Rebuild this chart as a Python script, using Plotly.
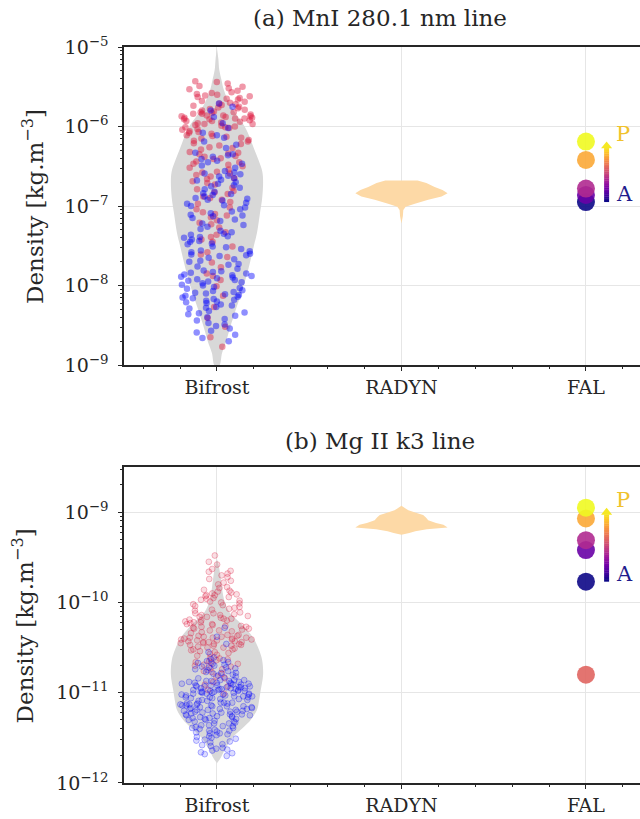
import numpy as np
import plotly.graph_objects as go
from plotly.colors import sample_colorscale

# ------------------------------------------------------------------
# Data: all densities stored as log10(rho / kg m^-3)
# ------------------------------------------------------------------
categories = ["Bifrost", "RADYN", "FAL"]
fal_models = ["A", "C", "E", "F", "H", "P"]

# (a) Mn I 280.1 nm line
mn_bifrost_red = [
    -5.43, -5.46, -5.44, -5.50, -5.52, -5.49, -5.55, -5.53,
    -5.58, -5.61, -5.57, -5.64, -5.66, -5.60, -5.69, -5.71, -5.63, -5.74, -5.77, -5.68, -5.72,
    -5.79, -5.62, -5.75, -5.70, -5.78, -5.65, -5.73, -5.59, -5.76,
    -5.81, -5.84, -5.80, -5.87, -5.83, -5.89, -5.86, -5.92, -5.85, -5.90, -5.94, -5.88, -5.82,
    -5.96, -5.91, -5.99, -5.93, -6.01, -5.97, -5.86, -6.03, -5.95, -5.89, -6.00, -5.84, -5.98,
    -6.02, -5.91, -5.87, -6.04, -5.93, -5.82, -5.97, -5.90, -6.01,
    -6.06, -6.09, -6.12, -6.08, -6.15, -6.19, -6.11, -6.22, -6.17, -6.26, -6.14, -6.21, -6.29,
    -6.24, -6.07, -6.18, -6.27, -6.13,
    -6.32, -6.35, -6.38, -6.41, -6.34, -6.45, -6.48, -6.40, -6.52, -6.37, -6.44, -6.50, -6.33,
    -6.47, -6.54,
    -6.57, -6.61, -6.65, -6.59, -6.69, -6.73, -6.63, -6.77, -6.71, -6.66, -6.79, -6.58,
    -6.83, -6.88, -6.92, -6.85, -6.97, -7.02, -6.90, -6.95, -7.04, -6.81,
    -7.08, -7.12, -7.18, -7.14, -7.23, -7.27, -7.10, -7.21,
    -7.33, -7.39, -7.45, -7.36, -7.51, -7.42,
    -7.58, -7.64, -7.71, -7.61, -7.77,
    -7.85, -7.93, -8.01, -7.88,
    -8.13, -8.27, -8.41, -8.52, -8.65, -8.77,
]
mn_bifrost_blue = [
    -5.71, -5.75, -5.80, -5.88, -5.96, -6.02,
    -6.08, -6.14, -6.19, -6.23, -6.27, -6.11,
    -6.33, -6.36, -6.41, -6.38, -6.45, -6.49, -6.52, -6.43, -6.35, -6.47,
    -6.56, -6.60, -6.63, -6.58, -6.67, -6.70, -6.65, -6.74, -6.72, -6.77, -6.62, -6.79, -6.68,
    -6.75, -6.59,
    -6.82, -6.86, -6.84, -6.90, -6.93, -6.88, -6.96, -6.99, -6.92, -7.02, -6.85, -7.04, -6.97,
    -6.91, -7.00,
    -7.07, -7.11, -7.09, -7.15, -7.19, -7.13, -7.22, -7.26, -7.17, -7.29, -7.24, -7.12,
    -7.31, -7.35, -7.33, -7.38, -7.42, -7.36, -7.45, -7.40, -7.48, -7.51, -7.44, -7.54, -7.39,
    -7.47, -7.52,
    -7.56, -7.60, -7.58, -7.63, -7.67, -7.61, -7.70, -7.65, -7.73, -7.76, -7.69, -7.79, -7.62,
    -7.74, -7.57,
    -7.81, -7.84, -7.82, -7.87, -7.90, -7.86, -7.93, -7.89, -7.96, -7.99, -7.92, -8.02, -7.85,
    -7.97, -8.04, -7.91, -7.83, -8.00, -7.95, -7.88, -8.03, -7.94,
    -8.06, -8.09, -8.07, -8.12, -8.15, -8.10, -8.18, -8.14, -8.21, -8.24, -8.17, -8.27, -8.11,
    -8.20, -8.29, -8.16, -8.08, -8.25, -8.13, -8.22, -8.28, -8.19,
    -8.32, -8.36, -8.34, -8.40, -8.44, -8.38, -8.47, -8.51, -8.42, -8.54, -8.35, -8.49,
    -8.57, -8.62, -8.66, -8.59, -8.70,
]
# Bifrost kernel-density profile (relative width) along log10(rho)
mn_bifrost_kde_logrho = [-5.02, -5.15, -5.29, -5.42, -5.54, -5.70, -5.85, -6.00, -6.15, -6.29,
                         -6.42, -6.56, -6.70, -6.90, -7.10, -7.33, -7.50, -7.70, -7.90, -8.09,
                         -8.30, -8.52, -8.70, -8.85, -9.00]
mn_bifrost_kde_dens = [0.00, 0.03, 0.05, 0.10, 0.15, 0.26, 0.42, 0.60, 0.72, 0.81,
                       0.90, 0.98, 1.00, 0.98, 0.93, 0.87, 0.80, 0.72, 0.63, 0.53,
                       0.41, 0.29, 0.20, 0.11, 0.06]
mn_radyn_kde_logrho = [-6.68, -6.71, -6.76, -6.80, -6.84, -6.88, -6.92, -6.97, -7.01, -7.05,
                       -7.13, -7.22]
mn_radyn_kde_dens = [0.35, 0.54, 0.72, 0.89, 1.00, 0.87, 0.58, 0.29, 0.09, 0.04, 0.03, 0.00]
mn_fal = [-6.95, -6.86, -6.78, None, -6.42, -6.19]

# (b) Mg II k3 line
mg_bifrost_red = [
    -9.48, -9.55, -9.58,
    -9.63, -9.68, -9.72, -9.66, -9.76, -9.80, -9.70, -9.83, -9.74, -9.65, -9.78, -9.84,
    -9.86, -9.89, -9.92, -9.88, -9.95, -9.98, -9.91, -10.01, -9.94, -10.04, -9.97, -10.07,
    -9.87, -10.00, -9.93, -10.09, -9.90, -10.03, -9.96, -10.06, -9.99, -10.08, -10.02, -9.92,
    -10.05,
    -10.11, -10.13, -10.15, -10.12, -10.17, -10.19, -10.14, -10.21, -10.18, -10.23, -10.16,
    -10.25, -10.20, -10.27, -10.22, -10.29, -10.24, -10.31, -10.26, -10.33, -10.28, -10.12,
    -10.30, -10.18, -10.34, -10.22, -10.16, -10.27, -10.32, -10.24, -10.14, -10.29, -10.20,
    -10.26, -10.31,
    -10.36, -10.38, -10.37, -10.40, -10.42, -10.39, -10.44, -10.41, -10.46, -10.43, -10.48,
    -10.45, -10.50, -10.47, -10.52, -10.49, -10.54, -10.51, -10.56, -10.53, -10.58, -10.37,
    -10.41, -10.45, -10.39, -10.43, -10.47, -10.36, -10.50, -10.42, -10.55, -10.38, -10.44,
    -10.48, -10.40, -10.57, -10.46, -10.52, -10.41, -10.59, -10.39, -10.44,
    -10.61, -10.64, -10.62, -10.67, -10.70, -10.65, -10.73, -10.68, -10.76, -10.79, -10.71,
    -10.82, -10.63, -10.74, -10.84, -10.66, -10.77, -10.69,
    -10.88, -10.93, -10.97, -11.01, -10.91,
]
mg_bifrost_blue = [
    -10.28, -10.38, -10.46, -10.55,
    -10.61, -10.63, -10.66, -10.64, -10.68, -10.70, -10.67, -10.72, -10.69, -10.74, -10.71,
    -10.76, -10.73, -10.78, -10.75, -10.80, -10.77, -10.82, -10.79, -10.84, -10.81, -10.65,
    -10.83, -10.72, -10.78,
    -10.86, -10.89, -10.87, -10.92, -10.95, -10.90, -10.98, -10.93, -11.01, -10.96, -11.04,
    -10.88, -10.99, -11.07, -10.94, -11.02, -10.91, -11.05, -10.97, -11.09, -10.86, -11.00,
    -10.93, -11.03, -10.89, -11.06, -10.95, -11.08, -10.90, -10.98, -11.01, -10.87, -10.96,
    -11.04, -10.92, -11.00, -10.94, -11.07, -10.88, -10.97, -11.02, -10.91, -11.05, -10.99,
    -10.86, -11.03, -10.95, -11.09, -10.90, -10.98, -11.06, -10.93, -11.00, -10.89, -11.04,
    -10.96, -11.08, -10.92, -11.01, -10.87, -10.97, -11.05, -10.94, -11.02, -10.99,
    -11.11, -11.14, -11.12, -11.17, -11.20, -11.15, -11.23, -11.18, -11.26, -11.21, -11.29,
    -11.13, -11.24, -11.32, -11.16, -11.27, -11.19, -11.34, -11.22, -11.11, -11.30, -11.14,
    -11.25, -11.18, -11.33, -11.12, -11.21, -11.28, -11.16, -11.24, -11.13, -11.31, -11.19,
    -11.26, -11.15, -11.22, -11.29, -11.11, -11.20, -11.27, -11.17, -11.34, -11.14, -11.23,
    -11.30, -11.12, -11.25, -11.18, -11.32, -11.21, -11.15, -11.28, -11.19, -11.24, -11.13,
    -11.36, -11.39, -11.42, -11.37, -11.45, -11.48, -11.40, -11.51, -11.44, -11.54, -11.38,
    -11.47, -11.57, -11.41, -11.50, -11.36, -11.43, -11.53, -11.46, -11.59, -11.39, -11.49,
    -11.42, -11.55, -11.37, -11.52, -11.45, -11.58,
    -11.61, -11.64, -11.62, -11.67, -11.70, -11.63, -11.66, -11.68,
]
mg_bifrost_kde_logrho = [-9.52, -9.60, -9.73, -9.92, -10.03, -10.11, -10.18, -10.25, -10.33,
                         -10.40, -10.52, -10.64, -10.80, -10.97, -11.10, -11.19, -11.30, -11.38,
                         -11.49, -11.63, -11.72, -11.78]
mg_bifrost_kde_dens = [0.00, 0.04, 0.08, 0.13, 0.19, 0.27, 0.40, 0.54, 0.68,
                       0.78, 0.89, 0.96, 0.98, 0.93, 0.89, 0.85, 0.72, 0.57,
                       0.34, 0.17, 0.08, 0.00]
mg_radyn_kde_logrho = [-8.93, -8.98, -9.01, -9.03, -9.06, -9.09, -9.12, -9.14, -9.17, -9.19,
                       -9.21, -9.23, -9.25]
mg_radyn_kde_dens = [0.00, 0.15, 0.33, 0.47, 0.53, 0.58, 0.75, 0.91, 1.00, 0.55, 0.30, 0.17, 0.00]
mg_fal = [-9.77, -9.42, -9.31, -10.80, -9.07, -8.95]

# ------------------------------------------------------------------
# Styling
# ------------------------------------------------------------------
FONT = "DejaVu Serif"
INK = "#262626"
GRID = "#e6e6e6"
VIOLIN_GREY = "rgb(216,216,216)"
RADYN_FILL = "#fdd9a6"
HALF_WIDTH = 0.25          # half width of each violin in category units
ARROW_X = 2.112
fal_colors = sample_colorscale("Plasma", [0.0, 0.2, 0.4, 0.6, 0.8, 1.0])

fig = go.Figure()


def outline(xc, logrho, dens):
    d = np.asarray(dens, float)
    d = d / d.max() * HALF_WIDTH
    y = np.asarray(logrho, float)
    xs = np.concatenate([xc - d, (xc + d)[::-1]])
    ys = np.concatenate([y, y[::-1]])
    return xs, ys


def svg_path(xs, ys, smooth):
    """Closed SVG path through the outline; Catmull-Rom curves when smooth."""
    pts = list(zip(xs, ys))
    out = [f"M {pts[0][0]:.5f},{pts[0][1]:.5f}"]
    n = len(pts)
    for i in range(n - 1):
        p1, p2 = pts[i], pts[i + 1]
        if not smooth:
            out.append(f"L {p2[0]:.5f},{p2[1]:.5f}")
            continue
        p0 = pts[i - 1] if i > 0 else p1
        p3 = pts[i + 2] if i + 2 < n else p2
        c1 = (p1[0] + (p2[0] - p0[0]) / 6, p1[1] + (p2[1] - p0[1]) / 6)
        c2 = (p2[0] - (p3[0] - p1[0]) / 6, p2[1] - (p3[1] - p1[1]) / 6)
        out.append(f"C {c1[0]:.5f},{c1[1]:.5f} {c2[0]:.5f},{c2[1]:.5f} {p2[0]:.5f},{p2[1]:.5f}")
    out.append("Z")
    return " ".join(out)


def add_panel(row, red, blue, kde_y, kde_d, rad_y, rad_d, fal, hollow):
    xa = "x" if row == 1 else "x2"
    ya = "y" if row == 1 else "y2"

    # Bifrost density envelope (between grid and data)
    xs, ys = outline(0, kde_y, kde_d)
    fig.add_shape(type="path", xref=xa, yref=ya, path=svg_path(xs, ys, True),
                  fillcolor=VIOLIN_GREY, line=dict(width=0), layer="between")

    # RADYN density envelope
    xs, ys = outline(1, rad_y, rad_d)
    fig.add_shape(type="path", xref=xa, yref=ya, path=svg_path(xs, ys, False),
                  fillcolor=RADYN_FILL, line=dict(width=0), layer="between")

    # Bifrost samples, jittered by the box-points machinery
    for vals, rgb in ((red, "220,20,60"), (blue, "0,0,255")):
        if hollow:
            marker = dict(size=5.8, color=f"rgba({rgb},0.14)",
                          line=dict(color=f"rgba({rgb},0.36)", width=0.8))
        else:
            marker = dict(size=6.5, color=f"rgba({rgb},0.44)", line=dict(width=0))
        fig.add_trace(go.Box(y=vals, x=[0] * len(vals), boxpoints="all", jitter=0.8,
                             pointpos=0, width=0.5, fillcolor="rgba(0,0,0,0)",
                             line=dict(width=0, color="rgba(0,0,0,0)"), whiskerwidth=0,
                             marker=marker, xaxis=xa, yaxis=ya, showlegend=False,
                             hoveron="points"))

    # FAL models, drawn from A to P
    for name, val, col in zip(fal_models, fal, fal_colors):
        if val is None:
            continue
        fig.add_trace(go.Scatter(x=[2], y=[val], mode="markers", name=f"FAL {name}",
                                 marker=dict(size=18, color=col, opacity=0.9, line=dict(width=0)),
                                 xaxis=xa, yaxis=ya, showlegend=False))

    # colour-graded arrow from model A to model P
    y_a, y_p = fal[0], fal[-1]
    head = 0.085 if row == 1 else 0.078
    n_seg = 30
    edges = np.linspace(y_a, y_p - head, n_seg + 1)
    seg_cols = sample_colorscale("Plasma", list(np.linspace(0.0, 0.93, n_seg)))
    for k in range(n_seg):
        fig.add_shape(type="rect", xref=xa, yref=ya,
                      x0=ARROW_X - 0.0135, x1=ARROW_X + 0.0135,
                      y0=edges[k], y1=edges[k + 1] + 0.004,
                      fillcolor=seg_cols[k], line=dict(width=0), layer="above")
    hx = 0.03
    fig.add_shape(type="path", xref=xa, yref=ya,
                  path=(f"M {ARROW_X - hx},{y_p - head} L {ARROW_X + hx},{y_p - head} "
                        f"L {ARROW_X},{y_p} Z"),
                  fillcolor=sample_colorscale("Plasma", [0.96])[0], line=dict(width=0),
                  layer="above")
    fig.add_annotation(x=2.152, y=y_p, xref=xa, yref=ya, text="P", showarrow=False,
                       xanchor="left", yanchor="middle", yshift=8,
                       font=dict(family=FONT, size=21, color="#f0c22c"))
    fig.add_annotation(x=2.152, y=y_a, xref=xa, yref=ya, text="A", showarrow=False,
                       xanchor="left", yanchor="middle", yshift=8,
                       font=dict(family=FONT, size=21, color="#1f1c8c"))


add_panel(1, mn_bifrost_red, mn_bifrost_blue, mn_bifrost_kde_logrho, mn_bifrost_kde_dens,
          mn_radyn_kde_logrho, mn_radyn_kde_dens, mn_fal, hollow=False)
add_panel(2, mg_bifrost_red, mg_bifrost_blue, mg_bifrost_kde_logrho, mg_bifrost_kde_dens,
          mg_radyn_kde_logrho, mg_radyn_kde_dens, mg_fal, hollow=True)


# ------------------------------------------------------------------
# Axes
# ------------------------------------------------------------------
def y_axis(lo, hi, top, domain, anchor):
    majors = list(range(lo, hi + 1))
    minors = [n + np.log10(k) for n in range(lo, hi + 1) for k in range(2, 10)
              if n + np.log10(k) < top]
    return dict(domain=domain, anchor=anchor, range=[lo, top],
                tickmode="array", tickvals=majors,
                ticktext=[f"10<sup>\u2212{-m}</sup>" for m in majors],
                tickfont=dict(family=FONT, size=19, color=INK),
                ticks="outside", ticklen=4, tickwidth=1, tickcolor=INK,
                minor=dict(tickmode="array", tickvals=minors, ticks="outside", ticklen=2.5,
                           tickwidth=0.8, tickcolor=INK, showgrid=False),
                showgrid=True, gridcolor=GRID, gridwidth=1, zeroline=False,
                showline=True, linecolor=INK, linewidth=1.6, mirror=False,
                ticklabelstandoff=6)


def x_axis(anchor):
    return dict(anchor=anchor, domain=[0, 1], range=[-0.504, 2.293],
                tickmode="array", tickvals=[0, 1, 2], ticktext=categories,
                tickfont=dict(family=FONT, size=19, color=INK),
                ticks="outside", ticklen=4, tickwidth=1, tickcolor=INK,
                minor=dict(dtick=0.2, tick0=0, ticks="outside", ticklen=2.5, tickwidth=0.8,
                           tickcolor=INK, showgrid=False),
                showgrid=True, gridcolor=GRID, gridwidth=1, zeroline=False,
                showline=True, linecolor=INK, linewidth=1.6, mirror=True)


fig.update_layout(
    width=640, height=819,
    margin=dict(l=124, r=0, t=47, b=36),
    paper_bgcolor="white", plot_bgcolor="white",
    showlegend=False,
    xaxis=x_axis("y"), yaxis=y_axis(-9, -5, -5, [0.5679, 1.0], "x"),
    xaxis2=x_axis("y2"), yaxis2=y_axis(-12, -9, -8.5, [0.0, 0.4293], "x2"),
)

# panel titles and axis labels
for text, y in (("(a) MnI 280.1 nm line", 1.0394), ("(b) Mg II k3 line", 0.4647)):
    fig.add_annotation(text=text, xref="paper", yref="paper", x=0.496, y=y,
                       showarrow=False, xanchor="center", yanchor="middle",
                       font=dict(family=FONT, size=23, color=INK))
for x, y in ((-0.1764, 0.784), (-0.195, 0.2133)):
    fig.add_annotation(text="Density [kg.m<sup>\u22123</sup>]", xref="paper", yref="paper",
                       x=x, y=y, textangle=-90, showarrow=False,
                       xanchor="center", yanchor="middle",
                       font=dict(family=FONT, size=23, color=INK))

fig.write_html("out.html")
